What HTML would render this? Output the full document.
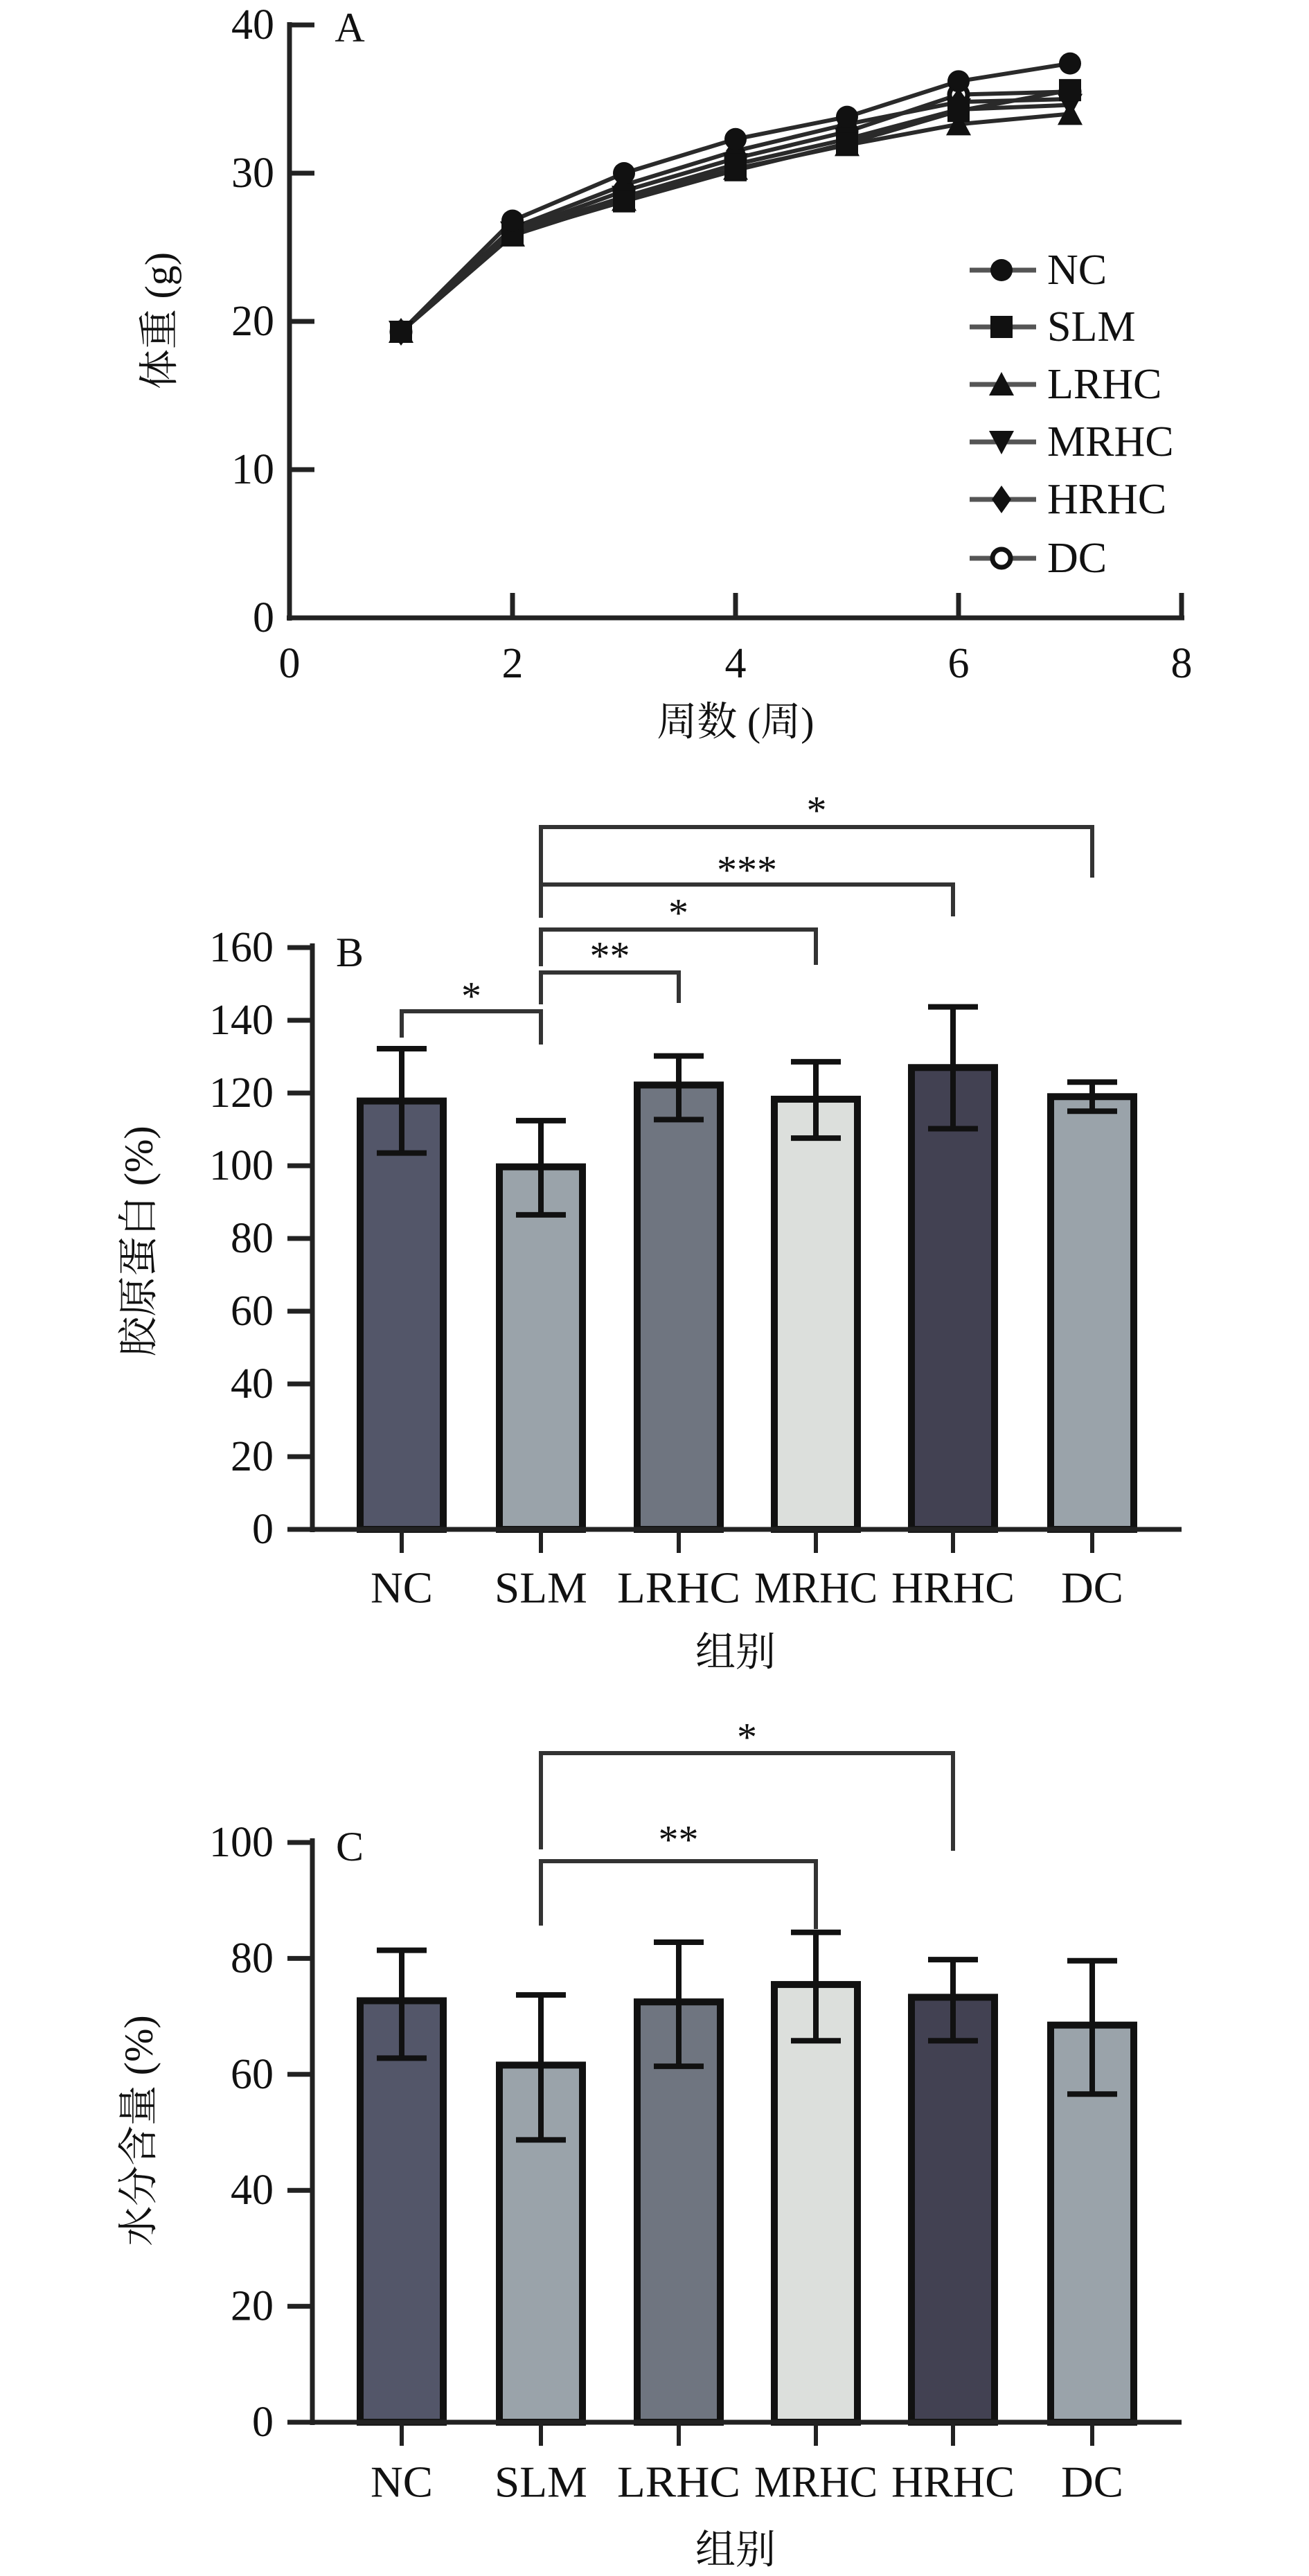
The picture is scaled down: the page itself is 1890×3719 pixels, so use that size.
<!DOCTYPE html>
<html><head><meta charset="utf-8">
<style>
html,body{margin:0;padding:0;background:#fff;}
svg{display:block;}
text{font-family:"Liberation Serif","Noto Serif CJK SC",serif;fill:#111;}
</style></head>
<body>
<svg id="fig" width="1890" height="3719" viewBox="0 0 1890 3719" xmlns="http://www.w3.org/2000/svg"></svg>
<script>
// ---- Panel A data ----
const weeks = [1,2,3,4,5,6,7];
const seriesNames = ["NC","SLM","LRHC","MRHC","HRHC","DC"];
const ncVals   = [19.3,26.8,30.0,32.3,33.8,36.2,37.4];
const slmVals  = [19.3,25.9,28.1,30.2,32.0,34.2,35.6];
const lrhcVals = [19.3,25.8,28.2,30.3,31.9,33.3,34.0];
const mrhcVals = [19.3,26.0,28.4,30.6,32.3,34.3,34.6];
const hrhcVals = [19.3,26.3,29.2,31.5,33.3,34.8,35.0];
const dcVals   = [19.3,26.1,28.8,31.0,32.8,35.3,35.5];
const aXTicks = [0,2,4,6,8];
const aYTicks = [0,10,20,30,40];

// ---- Panel B data ----
const groups = ["NC","SLM","LRHC","MRHC","HRHC","DC"];
const collagenMean = [117.8,99.7,122.2,118.3,127.0,119.0];
const collagenHigh = [132.2,112.4,130.2,128.6,143.7,123.0];
const collagenLow  = [103.5,86.5,112.7,107.6,110.2,115.0];
const bYTicks = [0,20,40,60,80,100,120,140,160];

// ---- Panel C data ----
const waterMean = [72.7,61.6,72.5,75.5,73.3,68.5];
const waterHigh = [81.4,73.7,82.8,84.5,79.8,79.6];
const waterLow  = [62.8,48.7,61.4,65.8,65.8,56.6];
const cYTicks = [0,20,40,60,80,100];

const svg = document.getElementById('fig');
const NS = "http://www.w3.org/2000/svg";
function mk(tag, attrs, parent){
  const e = document.createElementNS(NS, tag);
  for (const k in attrs) e.setAttribute(k, attrs[k]);
  (parent||svg).appendChild(e);
  return e;
}
function txt(str, x, y, size, anchor, parent){
  const t = mk('text', {x:x, y:y, 'font-size':size, 'text-anchor':anchor||'middle', 'dominant-baseline':'central'}, parent);
  t.textContent = str;
  return t;
}

// ================= Panel A =================
const gA = mk('g', {});


const ax0 = 418, ax8 = 1706, ay0 = 892, ay40 = 36;
const axX = v => ax0 + (v/8)*(ax8-ax0);
const axY = v => ay0 - (v/40)*(ay0-ay40);
let e;
e = mk('line', {x1:ax0, y1:ay40-4, x2:ax0, y2:ay0+4, stroke:'#222', 'stroke-width':7}, gA);
 
e = mk('line', {x1:ax0-4, y1:ay0, x2:ax8+4, y2:ay0, stroke:'#222', 'stroke-width':7}, gA);
 
aYTicks.forEach(v => {
  const y = axY(v);
  e = mk('line', {x1:ax0, y1:y, x2:ax0+36, y2:y, stroke:'#222', 'stroke-width':7}, gA);
   
  e = txt(String(v), ax0-22, y, 62, 'end', gA);
   
});
aXTicks.forEach(v => {
  const x = axX(v);
  if (v>0){
    e = mk('line', {x1:x, y1:ay0, x2:x, y2:ay0-36, stroke:'#222', 'stroke-width':7}, gA);
     
  }
  e = txt(String(v), x, 958, 62, 'middle', gA);
   
});
e = txt('A', 505, 40, 60, 'middle', gA);
 
e = txt('周数 (周)', 1062, 1042, 58, 'middle', gA);
 
e = txt('体重 (g)', 0, 0, 58, 'middle', gA);
e.setAttribute('transform', 'translate(230,463) rotate(-90)');
 

function marker(kind, x, y, parent){
  const r = 16;
  let m;
  if (kind===0) m = mk('circle', {cx:x, cy:y, r:r, fill:'#111'}, parent);
  else if (kind===1) m = mk('rect', {x:x-r, y:y-r, width:2*r, height:2*r, fill:'#111'}, parent);
  else if (kind===2) m = mk('polygon', {points:`${x},${y-r-2} ${x-r-2},${y+r} ${x+r+2},${y+r}`, fill:'#111'}, parent);
  else if (kind===3) m = mk('polygon', {points:`${x},${y+r+2} ${x-r-2},${y-r} ${x+r+2},${y-r}`, fill:'#111'}, parent);
  else if (kind===4) m = mk('polygon', {points:`${x},${y-r-4} ${x+r-2},${y} ${x},${y+r+4} ${x-r+2},${y}`, fill:'#111'}, parent);
  else m = mk('circle', {cx:x, cy:y, r:r-3, fill:'#fff', stroke:'#111', 'stroke-width':7}, parent);
  return m;
}
const allSeries = [ncVals, slmVals, lrhcVals, mrhcVals, hrhcVals, dcVals];
allSeries.forEach((vals, si) => {
  const pts = weeks.map((w,i)=>`${axX(w)},${axY(vals[i])}`).join(' ');
  const pl = mk('polyline', {points:pts, fill:'none', stroke:'#2a2a2a', 'stroke-width':6}, gA);
  
  
});
[5,4,3,2,1,0].forEach(si => {
  const vals = allSeries[si];
  weeks.forEach((w,i)=>{
    const m = marker(si, axX(w), axY(vals[i]), gA);
    
    
  });
});
// legend
const legRows = [390,472,555,638,721,806];
seriesNames.forEach((n,i)=>{
  const y = legRows[i];
  const g = mk('g', {}, gA);
  
  
  mk('line', {x1:1400, y1:y, x2:1496, y2:y, stroke:'#555', 'stroke-width':7}, g);
  marker(i, 1446, y, g);
  txt(n, 1512, y, 62, 'start', g);
});

// ================= Bar panels =================
const catX = [580,781,980,1178,1376,1577];
const fills = ['#535669','#9aa3aa','#6f7580','#dcdfdc','#424152','#9aa3aa'];
function barPanel(name, y0, yTop, maxV, ticks, means, highs, lows, letter, letterY, ytitle, ytitleY, catY, xtitleY){
  const g = mk('g', {});
  
  
  const yS = v => y0 - (v/maxV)*(y0-yTop);
  means.forEach((m,i)=>{
    const b = mk('rect', {x:catX[i]-60, y:yS(m), width:120, height:y0-yS(m), fill:fills[i], stroke:'#111', 'stroke-width':10}, g);
    
    
  });
  means.forEach((m,i)=>{
    const eg = mk('g', {stroke:'#111', 'stroke-width':8}, g);
    
    
    mk('line', {x1:catX[i], y1:yS(highs[i]), x2:catX[i], y2:yS(lows[i])}, eg);
    mk('line', {x1:catX[i]-36, y1:yS(highs[i]), x2:catX[i]+36, y2:yS(highs[i])}, eg);
    mk('line', {x1:catX[i]-36, y1:yS(lows[i]), x2:catX[i]+36, y2:yS(lows[i])}, eg);
  });
  let a = mk('line', {x1:451, y1:yTop-6, x2:451, y2:y0+4, stroke:'#222', 'stroke-width':7}, g);
   
  a = mk('line', {x1:415, y1:y0, x2:1706, y2:y0, stroke:'#222', 'stroke-width':7}, g);
   
  ticks.forEach(v=>{
    const y = yS(v);
    let t = mk('line', {x1:415, y1:y, x2:451, y2:y, stroke:'#222', 'stroke-width':7}, g);
     
    t = txt(String(v), 395, y, 62, 'end', g);
     
  });
  groups.forEach((n,i)=>{
    let t = mk('line', {x1:catX[i], y1:y0, x2:catX[i], y2:y0+34, stroke:'#222', 'stroke-width':6}, g);
     
    t = txt(n, catX[i], catY, 64, 'middle', g);
    t.setAttribute('textLength', n.length>3 ? 178 : (n.length===3?134:90));
    t.setAttribute('lengthAdjust', 'spacingAndGlyphs');
     
  });
  let t = txt(letter, 505, letterY, 60, 'middle', g);
   
  t = txt(ytitle, 0, 0, 58, 'middle', g);
  t.setAttribute('transform', `translate(200,${ytitleY}) rotate(-90)`);
   
  t = txt('组别', 1062, xtitleY, 58, 'middle', g);
   
  return g;
}
function bracket(g, i1, i2, y, leg1, leg2, stars, starY){
  const bg = mk('g', {}, g);
  
  
  mk('polyline', {points:`${catX[i1]},${leg1} ${catX[i1]},${y} ${catX[i2]},${y} ${catX[i2]},${leg2}`, fill:'none', stroke:'#333', 'stroke-width':6}, bg);
  txt(stars, (catX[i1]+catX[i2])/2, starY, 58, 'middle', bg);
}

const gB = barPanel('collagen-bar-chart', 2208, 1368, 160, bYTicks, collagenMean, collagenHigh, collagenLow, 'B', 1375, '胶原蛋白 (%)', 1792, 2292, 2385);
bracket(gB, 0, 1, 1460, 1498, 1508, '*', 1438);
bracket(gB, 1, 2, 1404, 1450, 1448, '**', 1380);
bracket(gB, 1, 3, 1342, 1395, 1393, '*', 1318);
bracket(gB, 1, 4, 1277, 1325, 1323, '***', 1256);
bracket(gB, 1, 5, 1194, 1325, 1267, '*', 1170);

const gC = barPanel('water-content-bar-chart', 3497, 2660, 100, cYTicks, waterMean, waterHigh, waterLow, 'C', 2666, '水分含量 (%)', 3076, 3583, 3681);
bracket(gC, 1, 3, 2687, 2780, 2785, '**', 2656);
bracket(gC, 1, 4, 2531, 2670, 2672, '*', 2508);
</script>
</body></html>
